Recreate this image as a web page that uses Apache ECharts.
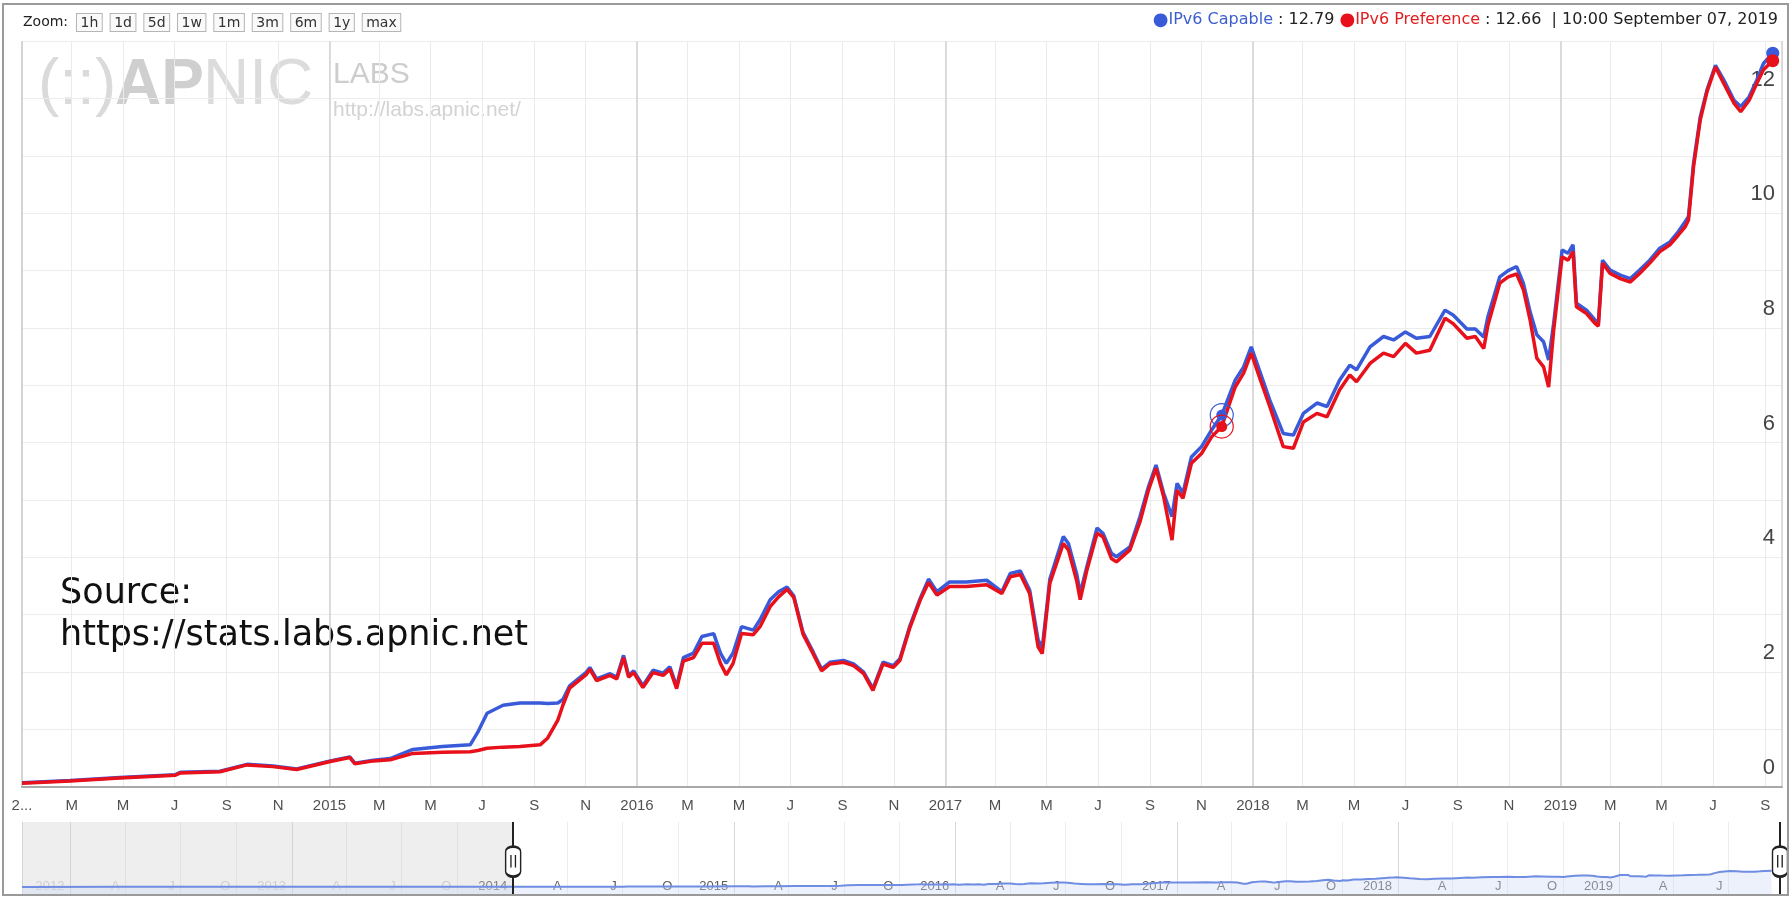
<!DOCTYPE html>
<html>
<head>
<meta charset="utf-8">
<script src="https://cdn.jsdelivr.net/npm/echarts@6/dist/echarts.min.js"></script>
<style>
html,body{margin:0;padding:0;background:#fff;}
#c{width:1792px;height:898px;}
</style>
</head>
<body>
<div id="c"></div>
<script>
// ---------------- DATA ----------------
const dates = [
'2014-01-01','2014-02-27','2014-04-27','2014-07-02','2014-07-08','2014-08-24','2014-09-25','2014-10-26','2014-11-23',
'2015-01-02','2015-01-25','2015-01-31','2015-02-22','2015-03-14','2015-04-10','2015-05-15','2015-06-17','2015-06-26',
'2015-07-07','2015-07-26','2015-08-15','2015-09-08','2015-09-17','2015-09-29','2015-10-05','2015-10-13','2015-11-02',
'2015-11-06','2015-11-14','2015-11-30','2015-12-08','2015-12-16','2015-12-22','2015-12-28','2016-01-08','2016-01-20',
'2016-02-01','2016-02-09','2016-02-17','2016-02-25','2016-03-08','2016-03-18','2016-04-01','2016-04-09','2016-04-16',
'2016-04-24','2016-05-04','2016-05-18','2016-05-26','2016-06-07','2016-06-17','2016-06-27','2016-07-05','2016-07-16',
'2016-07-28','2016-08-07','2016-08-17','2016-09-02','2016-09-14','2016-09-26','2016-10-07','2016-10-19','2016-10-31',
'2016-11-08','2016-11-20','2016-12-02','2016-12-12','2016-12-22','2017-01-06','2017-01-26','2017-02-19','2017-03-09',
'2017-03-19','2017-03-31','2017-04-11','2017-04-21','2017-04-26','2017-05-05','2017-05-21','2017-05-27','2017-06-06',
'2017-06-10','2017-06-18','2017-06-30','2017-07-07','2017-07-17','2017-07-23','2017-08-08','2017-08-20','2017-08-30',
'2017-09-08','2017-09-17','2017-09-27','2017-10-03','2017-10-10','2017-10-20','2017-11-01','2017-11-13','2017-11-25',
'2017-12-11','2017-12-21','2017-12-30','2018-01-10','2018-01-21','2018-02-06','2018-02-18','2018-03-02','2018-03-18',
'2018-03-30','2018-04-14','2018-04-26','2018-05-04','2018-05-20','2018-06-05','2018-06-17','2018-07-01','2018-07-14',
'2018-07-30','2018-08-17','2018-08-27','2018-09-12','2018-09-22','2018-10-02','2018-10-07','2018-10-21','2018-10-31',
'2018-11-10','2018-11-18','2018-11-26','2018-12-04','2018-12-12','2018-12-18','2018-12-24','2019-01-03','2019-01-10',
'2019-01-16','2019-01-20','2019-02-01','2019-02-11','2019-02-15','2019-02-20','2019-03-01','2019-03-13','2019-03-25',
'2019-04-05','2019-04-17','2019-04-29','2019-05-11','2019-05-21','2019-05-29','2019-06-02','2019-06-08','2019-06-16',
'2019-06-24','2019-07-04','2019-07-14','2019-07-26','2019-08-03','2019-08-13','2019-08-22','2019-08-30','2019-09-10'
];
const capable = [
0.07,0.11,0.16,0.21,0.25,0.27,0.39,0.36,0.31,
0.45,0.52,0.41,0.46,0.49,0.65,0.70,0.73,0.95,
1.28,1.42,1.46,1.46,1.45,1.46,1.52,1.76,2.00,
2.08,1.88,1.97,1.91,2.29,1.94,2.02,1.76,2.03,
1.98,2.09,1.75,2.25,2.33,2.62,2.67,2.33,2.15,
2.33,2.79,2.73,2.91,3.26,3.40,3.48,3.33,2.69,
2.35,2.05,2.17,2.20,2.14,2.00,1.71,2.17,2.11,
2.23,2.81,3.28,3.62,3.40,3.57,3.57,3.60,3.40,
3.72,3.76,3.43,2.56,2.42,3.62,4.36,4.24,3.70,
3.37,3.84,4.51,4.42,4.07,4.01,4.18,4.71,5.23,
5.61,5.12,4.71,5.29,5.12,5.75,5.93,6.22,6.48,
7.09,7.32,7.67,7.21,6.74,6.16,6.13,6.51,6.69,
6.63,7.09,7.35,7.27,7.67,7.85,7.79,7.93,7.82,
7.85,8.31,8.22,7.98,7.98,7.84,8.20,8.89,9.00,
9.07,8.78,8.28,7.88,7.76,7.44,8.08,9.36,9.30,
9.45,8.43,8.31,8.14,8.08,9.18,9.01,8.92,8.86,
9.01,9.18,9.39,9.50,9.68,9.85,9.94,10.87,11.68,
12.15,12.58,12.32,11.97,11.86,12.03,12.32,12.61,12.79
];
const preference = [
0.06,0.10,0.15,0.20,0.24,0.26,0.38,0.35,0.30,
0.44,0.51,0.40,0.45,0.47,0.58,0.60,0.61,0.63,
0.67,0.69,0.70,0.73,0.85,1.16,1.42,1.72,1.96,
2.05,1.85,1.94,1.88,2.25,1.91,1.99,1.73,1.99,
1.94,2.05,1.71,2.19,2.25,2.50,2.50,2.15,1.95,
2.15,2.67,2.65,2.79,3.14,3.31,3.44,3.30,2.66,
2.32,2.02,2.14,2.17,2.11,1.97,1.68,2.14,2.08,
2.20,2.78,3.25,3.56,3.34,3.49,3.49,3.52,3.37,
3.66,3.70,3.37,2.44,2.32,3.55,4.24,4.13,3.58,
3.26,3.78,4.42,4.36,3.98,3.92,4.13,4.62,5.17,
5.55,5.06,4.30,5.17,5.03,5.64,5.81,6.10,6.28,
6.97,7.21,7.56,7.09,6.63,5.93,5.90,6.36,6.51,
6.45,6.92,7.18,7.06,7.38,7.56,7.50,7.73,7.56,
7.61,8.17,8.07,7.82,7.85,7.64,8.05,8.78,8.89,
8.94,8.67,8.14,7.47,7.32,6.97,7.96,9.24,9.18,
9.33,8.37,8.25,8.08,8.03,9.13,8.95,8.86,8.80,
8.95,9.13,9.33,9.45,9.62,9.76,9.88,10.81,11.63,
12.12,12.55,12.26,11.92,11.77,11.97,12.26,12.50,12.66
];
// navigator-only history before the main view
const navEarlyDates  = ['2011-10-13','2012-04-01','2012-10-01','2013-04-01','2013-10-01','2013-12-31'];
const navEarlyValues = [0.02,0.03,0.04,0.05,0.05,0.06];

const monthLetters = ['J','F','M','A','M','J','J','A','S','O','N','D'];
const firstTickLabel = '2...';
const zoomButtons = ['1h','1d','5d','1w','1m','3m','6m','1y','max'];
const legendStamp = '10:00 September 07, 2019';
const hoverDate = '2017-11-25';

const xMin = '2014-01-01', xMax = '2019-09-21';
const navMin = '2011-10-13', navMax = '2019-09-24';

// ---------------- CHART ----------------
const BLUE = '#3a5bd9', RED = '#e8101a';
const DAY = 86400000;
const chart = echarts.init(document.getElementById('c'), null, {renderer:'canvas', width:1792, height:898});
const pair = vals => dates.map((d, i) => [d, vals[i]]);
const navData = navEarlyDates.map((d, i) => [d, navEarlyValues[i]]).concat(pair(capable));
const xMinTs = +echarts.time.parse(xMin);
const hi = dates.indexOf(hoverDate);
const last = dates.length - 1;

function fmtMain(val) {
  const d = new Date(val);
  if (+d === xMinTs) return firstTickLabel;
  return d.getMonth() === 0 ? String(d.getFullYear()) : monthLetters[d.getMonth()];
}
function fmtNav(val) {
  const d = new Date(val);
  return d.getMonth() === 0 ? String(d.getFullYear()) : monthLetters[d.getMonth()];
}
const pill = 'path://M5,0 A5,5 0 0 1 10,5 L10,25 A5,5 0 0 1 0,25 L0,5 A5,5 0 0 1 5,0 Z';

function hoverMarks(color, vals) {
  return {
    silent: true, animation: false, label: {show: false},
    data: [
      {coord: [dates[hi], vals[hi]], symbol: 'circle', symbolSize: 11, itemStyle: {color: color}},
      {coord: [dates[hi], vals[hi]], symbol: 'circle', symbolSize: 23, itemStyle: {color: 'rgba(0,0,0,0)', borderColor: color, borderWidth: 1.2}},
      {coord: [dates[last], vals[last]], symbol: 'circle', symbolSize: 13, itemStyle: {color: color}}
    ]
  };
}

const baseText = {fontFamily: 'DejaVu Sans', fontWeight: 'normal'};
const option = {
  animation: false,
  backgroundColor: '#ffffff',
  title: [
    {
      left: 23, top: 14, padding: 0,
      text: '{z|Zoom:}  ' + zoomButtons.map(b => '{b|' + b + '}').join('  '),
      textStyle: Object.assign({}, baseText, {
        fontSize: 14, color: '#333',
        rich: {
          z: Object.assign({}, baseText, {fontSize: 14, color: '#222'}),
          b: Object.assign({}, baseText, {fontSize: 14, color: '#333', borderColor: '#b5b5b5', borderWidth: 1,
              padding: [2, 3.5, 1, 3.5], backgroundColor: '#fafafa'})
        }
      })
    },
    {
      right: 14, top: 11, padding: 0,
      text: '{bd|●}{bl|IPv6 Capable}{v| : ' + capable[last].toFixed(2) + ' }{rd|●}{rl|IPv6 Preference}{v| : ' +
            preference[last].toFixed(2) + '  | ' + legendStamp + '}',
      textStyle: Object.assign({}, baseText, {
        fontSize: 16, color: '#222',
        rich: {
          bd: Object.assign({}, baseText, {fontSize: 18, color: BLUE}),
          rd: Object.assign({}, baseText, {fontSize: 18, color: RED}),
          bl: Object.assign({}, baseText, {fontSize: 16, color: '#3c5fd0'}),
          rl: Object.assign({}, baseText, {fontSize: 16, color: '#e02020'}),
          v:  Object.assign({}, baseText, {fontSize: 16, color: '#222'})
        }
      })
    }
  ],
  grid: [
    {left: 22, right: 10, top: 41.15, bottom: 111.3, outerBoundsMode: 'none'},
    {left: 22, right: 12, top: 822, height: 72, outerBoundsMode: 'none'}
  ],
  xAxis: [
    {
      type: 'time', gridIndex: 0, min: xMin, max: xMax,
      minInterval: 70 * DAY, maxInterval: 70 * DAY,
      axisLine: {lineStyle: {color: '#a8a8a8', width: 2}},
      axisTick: {show: false},
      splitLine: {show: true, lineStyle: {color: '#ebebeb', width: 1}},
      axisLabel: {fontFamily: 'Liberation Sans', fontSize: 15, color: '#505050', margin: 12,
                  hideOverlap: false, formatter: fmtMain}
    },
    {
      type: 'time', gridIndex: 0, min: xMin, max: xMax,
      minInterval: 365 * DAY, maxInterval: 365 * DAY,
      axisLine: {show: false}, axisTick: {show: false}, axisLabel: {show: false},
      splitLine: {show: true, lineStyle: {color: '#d2d2d2', width: 1.5}}
    },
    {
      type: 'time', gridIndex: 1, min: navMin, max: navMax,
      minInterval: 92 * DAY, maxInterval: 92 * DAY,
      axisLine: {show: false}, axisTick: {show: false},
      splitLine: {show: true, lineStyle: {color: '#ececec', width: 1}},
      axisLabel: {inside: true, margin: 1, align: 'right', padding: [0, 6, 0, 0],
                  fontFamily: 'Liberation Sans', fontSize: 13, hideOverlap: false,
                  color: v => (v < xMinTs ? '#cfcfcf' : '#5a5a5a'), formatter: fmtNav}
    },
    {
      type: 'time', gridIndex: 1, min: navMin, max: navMax,
      minInterval: 365 * DAY, maxInterval: 365 * DAY,
      axisLine: {show: false}, axisTick: {show: false}, axisLabel: {show: false},
      splitLine: {show: true, lineStyle: {color: '#d8d8d8', width: 1}}
    }
  ],
  yAxis: [
    {
      type: 'value', gridIndex: 0, position: 'right', min: 0, max: 13, interval: 1,
      axisLine: {show: false}, axisTick: {show: false},
      splitLine: {show: true, lineStyle: {color: '#ececec', width: 1}},
      axisLabel: {inside: true, margin: 7, fontFamily: 'Liberation Sans', fontSize: 22, color: '#444',
                  verticalAlign: 'bottom', lineHeight: 22, padding: [0, 0, 8, 0],
                  formatter: v => (v % 2 === 0 ? String(v) : '')}
    },
    {type: 'value', gridIndex: 1, min: -5.6, max: 51.2, show: false}
  ],
  series: [
    {
      name: 'IPv6 Capable', type: 'line', xAxisIndex: 0, yAxisIndex: 0,
      data: pair(capable), symbol: 'none', showSymbol: false,
      lineStyle: {color: BLUE, width: 3.5}, itemStyle: {color: BLUE}, z: 3,
      markPoint: hoverMarks(BLUE, capable)
    },
    {
      name: 'IPv6 Preference', type: 'line', xAxisIndex: 0, yAxisIndex: 0,
      data: pair(preference), symbol: 'none', showSymbol: false,
      lineStyle: {color: RED, width: 3.5}, itemStyle: {color: RED}, z: 4,
      markPoint: hoverMarks(RED, preference)
    },
    {
      name: 'navigator', type: 'line', xAxisIndex: 2, yAxisIndex: 1,
      data: navData, symbol: 'none', showSymbol: false, silent: true,
      lineStyle: {color: '#6f8de2', width: 2}, itemStyle: {color: '#6f8de2'},
      areaStyle: {color: 'rgba(205,218,246,0.55)', origin: 'start'},
      markArea: {silent: true, itemStyle: {color: 'rgba(205,205,205,0.35)'},
                 data: [[{xAxis: navMin}, {xAxis: xMin}]]},
      markLine: {silent: true, animation: false, symbol: ['none', 'none'], label: {show: false},
                 lineStyle: {color: '#222', width: 2, type: 'solid'},
                 data: [{xAxis: xMin}, {xAxis: navMax}]},
      markPoint: {silent: true, animation: false, symbol: pill, symbolSize: [15, 30],
                  itemStyle: {color: '#fff', borderColor: '#222', borderWidth: 2},
                  label: {show: true, formatter: '||', color: '#222', fontSize: 12, fontWeight: 'bold',
                          fontFamily: 'DejaVu Sans'},
                  data: [{coord: [xMin, 20]}, {coord: [navMax, 20]}]}
    }
  ],
  graphic: [
    {type: 'text', x: 38, y: 86, z: -1, silent: true,
     style: {text: '(::)', fontFamily: 'Liberation Sans', fontSize: 64, fill: '#dadada', verticalAlign: 'middle'}},
    {type: 'text', x: 115, y: 86, z: -1, silent: true,
     style: {text: 'AP', fontFamily: 'Liberation Sans', fontWeight: 'bold', fontSize: 64, fill: '#cfcfcf', verticalAlign: 'middle'}},
    {type: 'text', x: 203, y: 86, z: -1, silent: true,
     style: {text: 'NIC', fontFamily: 'Liberation Sans', fontSize: 64, fill: '#dcdcdc', verticalAlign: 'middle'}},
    {type: 'text', x: 333, y: 75, z: -1, silent: true,
     style: {text: 'LABS', fontFamily: 'Liberation Sans', fontSize: 30, fill: '#cdcdcd', verticalAlign: 'middle'}},
    {type: 'text', x: 333, y: 110, z: -1, silent: true,
     style: {text: 'http://labs.apnic.net/', fontFamily: 'Liberation Sans', fontSize: 21, fill: '#d3d3d3', verticalAlign: 'middle'}},
    {type: 'text', x: 60, y: 594, silent: true,
     style: {text: 'Source:', fontFamily: 'DejaVu Sans', fontSize: 35, fill: '#111', verticalAlign: 'middle'}},
    {type: 'text', x: 60, y: 636, silent: true,
     style: {text: 'https://stats.labs.apnic.net', fontFamily: 'DejaVu Sans', fontSize: 35, fill: '#111', verticalAlign: 'middle'}},
    {type: 'rect', silent: true, z: 100,
     shape: {x: 3, y: 4, width: 1785, height: 891},
     style: {fill: 'none', stroke: '#9a9a9a', lineWidth: 2}}
  ]
};
chart.setOption(option);
</script>
</body>
</html>
